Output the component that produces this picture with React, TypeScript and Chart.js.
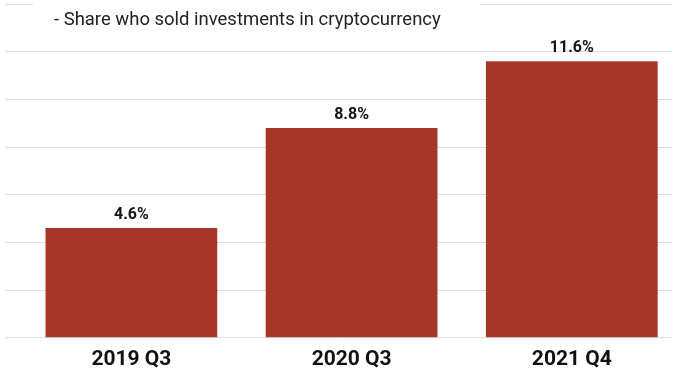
import React, { useEffect, useRef } from "react";
import { Chart, registerables } from "chart.js";

Chart.register(...registerables);

const categories = ["2019 Q3", "2020 Q3", "2021 Q4"];
const values = [4.6, 8.8, 11.6];
const valueLabels = ["4.6%", "8.8%", "11.6%"];
const subtitle = "- Share who sold investments in cryptocurrency";
const yTicks = [0, 2, 4, 6, 8, 10, 12, 14];

const BAR_COLOR = "#a53628";

const overlayPlugin = {
  id: "overlay",
  afterDatasetsDraw(chart: any) {
    const ctx = chart.ctx;
    const meta = chart.getDatasetMeta(0);
    ctx.save();
    ctx.fillStyle = "#151515";
    ctx.font = "bold 16px Roboto, 'Noto Sans', sans-serif";
    ctx.textAlign = "center";
    ctx.textBaseline = "alphabetic";
    meta.data.forEach((bar: any, i: number) => {
      ctx.fillText(valueLabels[i], bar.x, bar.y - 9);
    });
    ctx.restore();
  },
  afterDraw(chart: any) {
    const ctx = chart.ctx;
    ctx.save();
    ctx.fillStyle = "#ffffff";
    ctx.fillRect(33, 0, 447, 34);
    ctx.fillStyle = "#222222";
    let size = 17;
    ctx.font = `${size}px Roboto, 'Noto Sans', sans-serif`;
    const w = ctx.measureText(subtitle).width;
    size = size * (387 / w);
    ctx.font = `${size.toFixed(2)}px Roboto, 'Noto Sans', sans-serif`;
    ctx.textAlign = "left";
    ctx.textBaseline = "alphabetic";
    ctx.fillText(subtitle, 54, 25);
    ctx.restore();
  },
};

export default function App() {
  const ref = useRef<HTMLCanvasElement | null>(null);

  useEffect(() => {
    document.body.style.margin = "0";
    if (!ref.current) return;
    const chart = new Chart(ref.current, {
      type: "bar",
      data: {
        labels: categories,
        datasets: [
          {
            data: values.map((v, i) => ({ x: i, y: v })),
            backgroundColor: BAR_COLOR,
            borderWidth: 0,
            barPercentage: 0.78,
            categoryPercentage: 1,
          },
        ],
      },
      options: {
        animation: false,
        responsive: false,
        maintainAspectRatio: false,
        layout: { padding: { left: 5, right: 6, top: 4, bottom: 0 } },
        plugins: {
          legend: { display: false },
          tooltip: { enabled: false },
          title: { display: false },
        },
        scales: {
          x: {
            type: "linear",
            min: -0.574,
            max: 2.455,
            offset: false,
            afterBuildTicks: (scale: any) => {
              scale.ticks = categories.map((_, i) => ({ value: i }));
            },
            ticks: {
              autoSkip: false,
              maxRotation: 0,
              padding: 9,
              color: "#111111",
              font: { family: "Roboto, 'Noto Sans', sans-serif", size: 21, weight: "bold" },
              callback: (v: any) => categories[Number(v)] ?? "",
            },
            grid: { display: false, drawTicks: false },
            border: { display: false },
          },
          y: {
            min: yTicks[0],
            max: yTicks[yTicks.length - 1],
            afterBuildTicks: (scale: any) => {
              scale.ticks = yTicks.map((v) => ({ value: v }));
            },
            ticks: { display: false },
            grid: { color: "#dddddd", lineWidth: 1, drawTicks: false },
            border: { display: false },
          },
        },
      },
      plugins: [overlayPlugin],
    });
    return () => chart.destroy();
  }, []);

  return (
    <div style={{ width: 678, height: 381, position: "relative", background: "#fff" }}>
      <canvas ref={ref} width={678} height={381} style={{ width: 678, height: 381 }} />
    </div>
  );
}
